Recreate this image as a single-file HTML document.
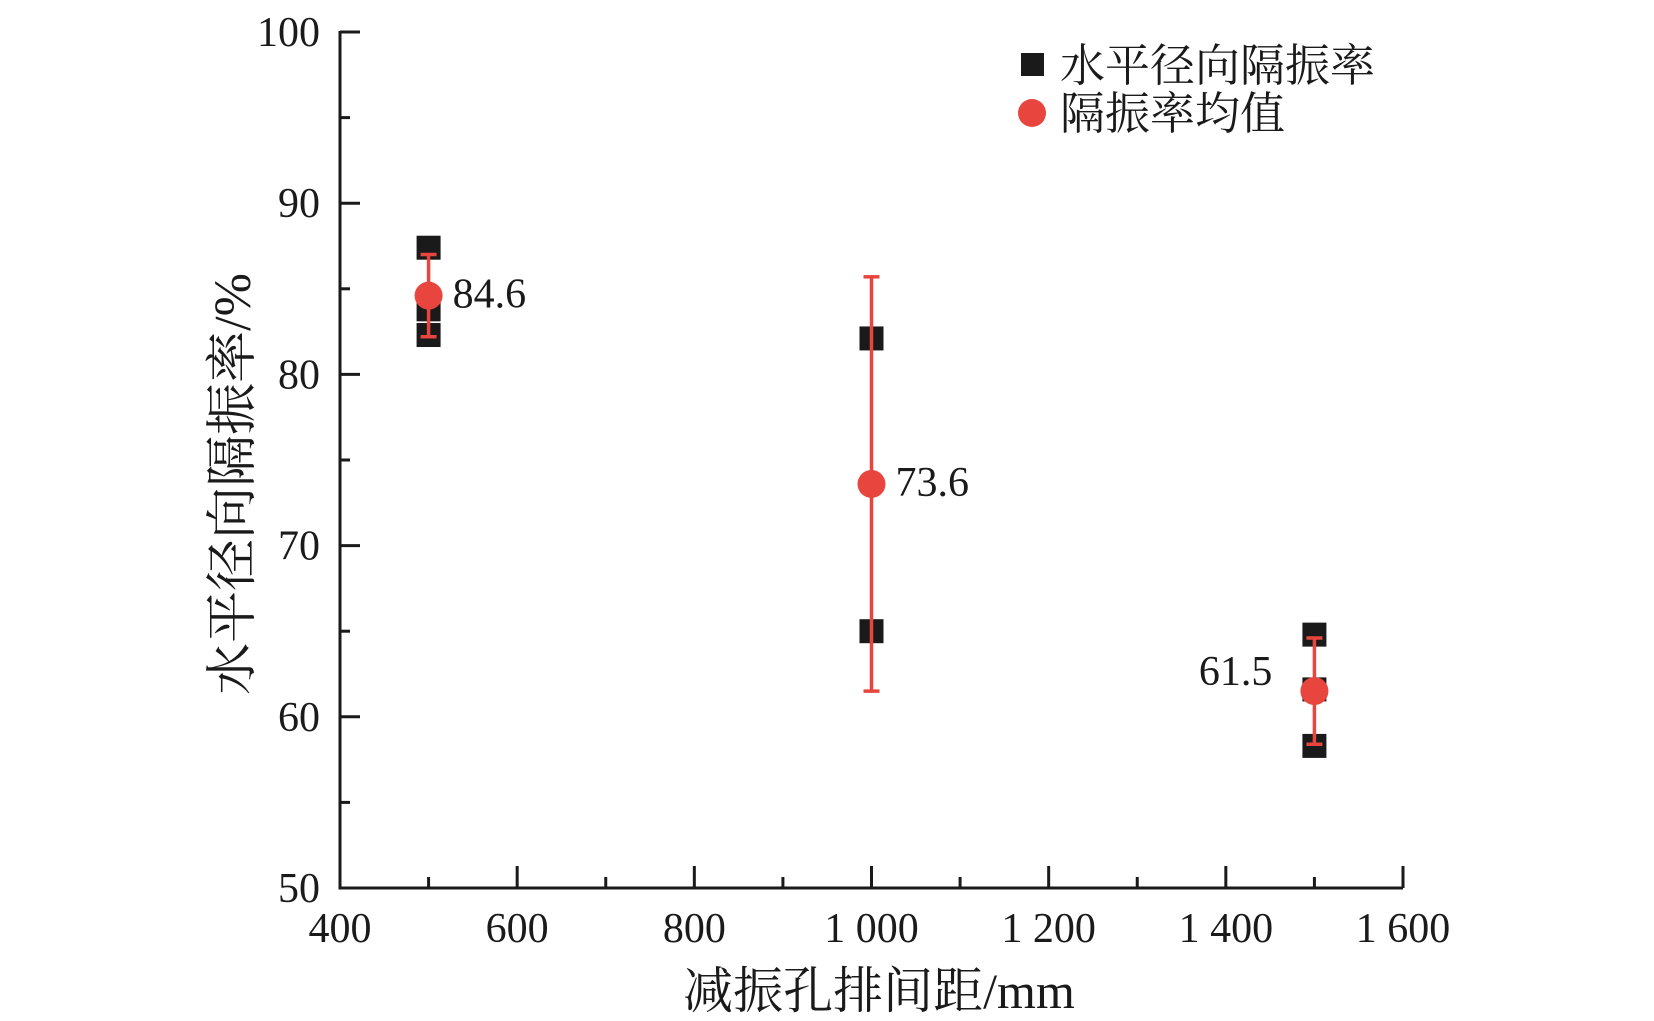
<!DOCTYPE html>
<html><head><meta charset="utf-8"><style>
html,body{margin:0;padding:0;background:#fff;}
svg{display:block;font-family:"Liberation Serif","Noto Serif CJK SC",serif;}
</style></head><body>
<svg id="chart" width="1654" height="1021" viewBox="0 0 1654 1021" xmlns="http://www.w3.org/2000/svg">
<g id="axes"></g>
<g id="marks"></g>
<g id="legend">
  <rect x="1021" y="53" width="23" height="23" fill="#1a1a1a"/>
  <text x="1060" y="81" font-size="45" fill="#1a1a1a">水平径向隔振率</text>
  <circle cx="1032" cy="113" r="14" fill="#e8453f"/>
  <text x="1060" y="129" font-size="45" fill="#1a1a1a">隔振率均值</text>
</g>
<text transform="translate(250,484) rotate(-90)" text-anchor="middle" font-size="52" fill="#1a1a1a">水平径向隔振率/%</text>
<text x="879" y="1008" text-anchor="middle" font-size="50" fill="#1a1a1a">减振孔排间距/mm</text>
</svg>
<script>
const xTicks = [400, 600, 800, 1000, 1200, 1400, 1600];
const xTickLabels = ["400", "600", "800", "1 000", "1 200", "1 400", "1 600"];
const yTicks = [50, 60, 70, 80, 90, 100];
const yTickLabels = ["50", "60", "70", "80", "90", "100"];
const categories = [500, 1000, 1500];
const sampleValues = [[87.4, 83.8, 82.3], [82.1, 65.0], [64.8, 61.6, 58.3]];
const meanValues = [84.6, 73.6, 61.5];
const errorValues = [2.4, 12.1, 3.1];
const meanLabels = ["84.6", "73.6", "61.5"];

const X0 = 340, X1 = 1403, Y0 = 888, Y1 = 32;
function xs(v){ return X0 + (v - 400) / 1200 * (X1 - X0); }
function ys(v){ return Y0 - (v - 50) / 50 * (Y0 - Y1); }
const NS = "http://www.w3.org/2000/svg";
function mk(tag, attrs, parent){ const e = document.createElementNS(NS, tag); for (const k in attrs) e.setAttribute(k, attrs[k]); parent.appendChild(e); return e; }
const axes = document.getElementById('axes');
const marks = document.getElementById('marks');
const INK = "#1a1a1a", RED = "#e8453f";

let l = mk('line', {x1: X0, y1: Y0, x2: X1, y2: Y0, stroke: INK, 'stroke-width': 3}, axes);


l = mk('line', {x1: X0, y1: Y0 + 1.5, x2: X0, y2: Y1 - 1, stroke: INK, 'stroke-width': 3}, axes);


l = mk('line', {x1: X0, y1: Y1, x2: X0 + 20, y2: Y1, stroke: INK, 'stroke-width': 3}, axes);



for (let v = 400; v <= 1600; v += 100) {
  const major = v % 200 === 0;
  const t = mk('line', {x1: xs(v), y1: Y0, x2: xs(v), y2: Y0 - (major ? 22 : 11), stroke: INK, 'stroke-width': 3}, axes);
  
  
}
for (let v = 50; v <= 100; v += 5) {
  const major = v % 10 === 0;
  const t = mk('line', {x1: X0, y1: ys(v), x2: X0 + (major ? 20 : 10), y2: ys(v), stroke: INK, 'stroke-width': 3}, axes);
  
  
}
xTicks.forEach((v, i) => {
  const t = mk('text', {x: xs(v), y: 942, 'text-anchor': 'middle', 'font-size': 42, fill: INK}, axes);
  t.textContent = xTickLabels[i];
  
  
});
yTicks.forEach((v, i) => {
  const t = mk('text', {x: 320, y: ys(v) + 14, 'text-anchor': 'end', 'font-size': 42, fill: INK}, axes);
  t.textContent = yTickLabels[i];
  
  
});

categories.forEach((c, i) => {
  const cx = xs(c);
  sampleValues[i].forEach(v => {
    const s = mk('rect', {x: cx - 12, y: ys(v) - 12, width: 24, height: 24, fill: INK}, marks);
    
    
  });
  const top = ys(meanValues[i] + errorValues[i]), bot = ys(meanValues[i] - errorValues[i]);
  const g = mk('g', {stroke: RED, 'stroke-width': 3.5}, marks);
  
  
  mk('line', {x1: cx, y1: top, x2: cx, y2: bot}, g);
  mk('line', {x1: cx - 8, y1: top, x2: cx + 8, y2: top}, g);
  mk('line', {x1: cx - 8, y1: bot, x2: cx + 8, y2: bot}, g);
  const m = mk('circle', {cx: cx, cy: ys(meanValues[i]), r: 14, fill: RED}, marks);
  
  
  const last = i === categories.length - 1;
  const lab = mk('text', last
    ? {x: cx - 42, y: ys(meanValues[i]) - 6, 'text-anchor': 'end', 'font-size': 42, fill: INK}
    : {x: cx + 24, y: ys(meanValues[i]) + 12, 'font-size': 42, fill: INK}, marks);
  lab.textContent = meanLabels[i];
  
  
});
</script>
</body></html>
